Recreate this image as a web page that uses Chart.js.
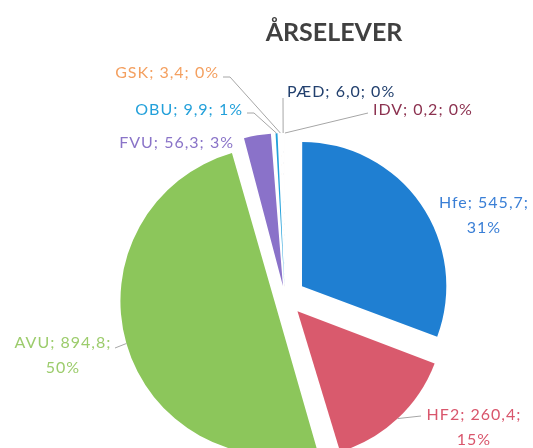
<!DOCTYPE html>
<html lang="da">
<head>
    <meta charset="UTF-8">
    <title>Årselever</title>
    <script src="https://cdn.jsdelivr.net/npm/chart.js"></script>
    <style>
        body { margin: 0; background: #fff; }
        #wrap { position: relative; width: 533px; height: 448px; overflow: hidden; }
        #title {
            position: absolute; left: 234px; top: 16px; width: 200px; text-align: center;
            font: bold 25px Lato, "Open Sans", sans-serif; color: #404040; margin: 0;
        }
    </style>
</head>
<body>
<div id="wrap">
    <h2 id="title">ÅRSELEVER</h2>
    <canvas id="pieChart" width="533" height="448"></canvas>
</div>

<script>
    // data
    const categories = ['Hfe', 'HF2', 'AVU', 'FVU', 'OBU', 'GSK', 'PÆD', 'IDV'];
    const values = [545.7, 260.4, 894.8, 56.3, 9.9, 3.4, 6.0, 0.2];
    const percents = ['31%', '15%', '50%', '3%', '1%', '0%', '0%', '0%'];

    const sliceColors = ['#1f7fd2', '#d95a6d', '#8cc65b', '#8a72c9', '#22a0da', '#f39a4e', '#1f3f70', '#8c2f4c'];
    const textColors = ['#3a7fd6', '#d9566c', '#9ccc6c', '#8a74c8', '#23a0da', '#f4a060', '#22406e', '#8c3250'];

    const explode = 22; // px every slice is pulled out

    // where each label sits (text anchor), and whether it wraps / has a leader line
    const labelSpots = [
        { x: 484, y: 203, align: 'center', wrap: true },
        { x: 474, y: 415, align: 'center', wrap: true, leader: [421, 416] },
        { x: 63, y: 343, align: 'center', wrap: true, leader: [115, 348] },
        { x: 234, y: 143, align: 'right' },
        { x: 243, y: 110, align: 'right', leader: [247, 113] },
        { x: 219, y: 73, align: 'right', leader: [223, 77] },
        { x: 287, y: 92, align: 'left', leader: [283, 98] },
        { x: 373, y: 110, align: 'left', leader: [368, 113] }
    ];

    function fmt(v) {
        return v.toFixed(1).replace('.', ',');
    }

    // Chart.js moves an arc by offset/4 * (1 + fix); undo that so each slice moves `explode` px
    function sliceOffset(c) {
        const total = values.reduce((a, b) => a + b, 0);
        const circ = 2 * Math.PI * values[c.dataIndex] / total;
        const fix = 1 - Math.sin(Math.min(Math.PI, circ));
        return 4 * explode / (1 + fix);
    }

    const pieLabels = {
        id: 'pieLabels',
        afterDatasetsDraw(chart) {
            const ctx = chart.ctx;
            const meta = chart.getDatasetMeta(0);
            ctx.save();
            ctx.font = '16px Lato, "Open Sans", sans-serif';
            ctx.letterSpacing = '1px';
            ctx.textBaseline = 'middle';
            meta.data.forEach((arc, i) => {
                const spot = labelSpots[i];
                const p = arc.getProps(['x', 'y', 'startAngle', 'endAngle', 'outerRadius'], true);
                const mid = (p.startAngle + p.endAngle) / 2;
                const r = p.outerRadius + explode;
                const ex = p.x + Math.cos(mid) * r;
                const ey = p.y + Math.sin(mid) * r;
                if (spot.leader) {
                    ctx.strokeStyle = '#a6a6a6';
                    ctx.lineWidth = 1;
                    ctx.beginPath();
                    ctx.moveTo(spot.leader[0], spot.leader[1]);
                    if (spot.align === 'right') {
                        ctx.lineTo(spot.leader[0] + 7, spot.leader[1]);
                    }
                    ctx.lineTo(ex, ey);
                    ctx.stroke();
                }
                ctx.fillStyle = textColors[i];
                ctx.textAlign = spot.align;
                const name = categories[i] + '; ' + fmt(values[i]) + ';';
                if (spot.wrap) {
                    ctx.fillText(name, spot.x, spot.y);
                    ctx.fillText(percents[i], spot.x, spot.y + 25);
                } else {
                    ctx.fillText(name + ' ' + percents[i], spot.x, spot.y);
                }
            });
            ctx.restore();
        }
    };

    new Chart(document.getElementById('pieChart'), {
        type: 'pie',
        data: {
            labels: categories,
            datasets: [{
                data: values,
                backgroundColor: sliceColors,
                borderWidth: 0,
                offset: sliceOffset,
                hoverOffset: 0
            }]
        },
        options: {
            responsive: false,
            animation: false,
            radius: 143,
            layout: { padding: { left: 37, top: 148, right: 0, bottom: 0 } },
            plugins: {
                legend: { display: false },
                tooltip: { enabled: false }
            }
        },
        plugins: [pieLabels]
    });
</script>
</body>
</html>
